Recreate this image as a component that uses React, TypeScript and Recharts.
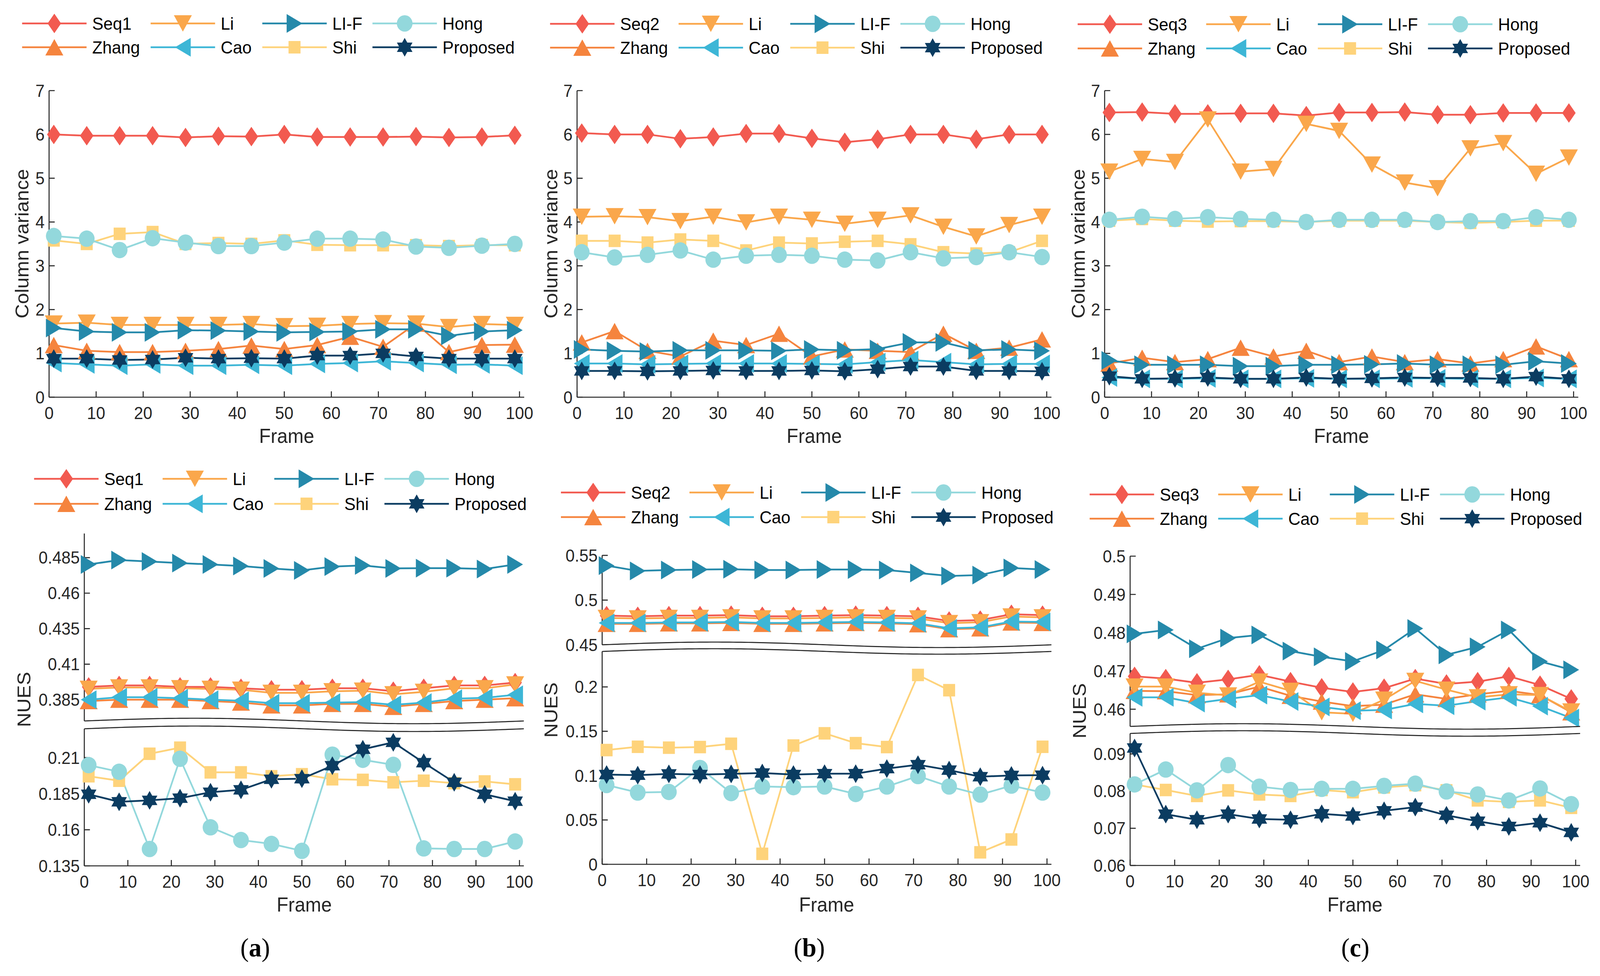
import React from 'react';
import { LineChart, Line, XAxis, YAxis } from 'recharts';

const FONT = '"Liberation Sans", Arial, Helvetica, sans-serif';
const SERIF = '"Liberation Serif", "Times New Roman", serif';
const INK = '#262626';
const PAGE_W = 4270;
const PAGE_H = 2499;

const FRAMES = [1, 8, 15, 22, 29, 36, 43, 50, 57, 64, 71, 78, 85, 92, 99];
const FRAME_TICKS = [0, 10, 20, 30, 40, 50, 60, 70, 80, 90, 100];

// (a) top: column variance, Seq1
const a1Seq = [6.0, 5.97, 5.97, 5.97, 5.93, 5.96, 5.95, 6.0, 5.94, 5.94, 5.94, 5.95, 5.93, 5.94, 5.98];
const a1Zhang = [1.19, 1.06, 1.03, 1.03, 1.06, 1.1, 1.18, 1.1, 1.19, 1.38, 1.15, 1.68, 1.03, 1.19, 1.2];
const a1Li = [1.68, 1.7, 1.65, 1.65, 1.65, 1.65, 1.67, 1.62, 1.63, 1.67, 1.69, 1.68, 1.6, 1.67, 1.65];
const a1Cao = [0.78, 0.75, 0.72, 0.75, 0.72, 0.72, 0.74, 0.72, 0.76, 0.78, 0.82, 0.78, 0.74, 0.75, 0.72];
const a1LiF = [1.58, 1.5, 1.48, 1.48, 1.53, 1.52, 1.5, 1.48, 1.49, 1.5, 1.55, 1.55, 1.4, 1.5, 1.53];
const a1Shi = [3.58, 3.5, 3.73, 3.77, 3.5, 3.52, 3.5, 3.58, 3.48, 3.47, 3.47, 3.47, 3.45, 3.47, 3.47];
const a1Hong = [3.68, 3.62, 3.36, 3.63, 3.53, 3.45, 3.45, 3.53, 3.62, 3.62, 3.6, 3.44, 3.41, 3.46, 3.5];
const a1Prop = [0.88, 0.88, 0.85, 0.86, 0.9, 0.88, 0.89, 0.88, 0.95, 0.95, 1.0, 0.93, 0.88, 0.88, 0.88];

// (b) top: column variance, Seq2
const b1Seq = [6.03, 6.0, 6.0, 5.9, 5.94, 6.02, 6.02, 5.91, 5.82, 5.89, 6.0, 6.0, 5.89, 6.0, 6.0];
const b1Zhang = [1.25, 1.51, 1.06, 0.93, 1.29, 1.19, 1.45, 0.93, 1.09, 1.06, 1.03, 1.45, 1.06, 1.13, 1.32];
const b1Li = [4.12, 4.13, 4.11, 4.02, 4.12, 3.99, 4.12, 4.05, 3.96, 4.05, 4.15, 3.89, 3.67, 3.93, 4.12];
const b1Cao = [0.77, 0.77, 0.75, 0.76, 0.77, 0.77, 0.77, 0.76, 0.75, 0.8, 0.85, 0.8, 0.75, 0.76, 0.76];
const b1LiF = [1.09, 1.06, 1.04, 1.07, 1.07, 1.07, 1.06, 1.09, 1.07, 1.1, 1.25, 1.25, 1.07, 1.09, 1.06];
const b1Shi = [3.57, 3.57, 3.53, 3.6, 3.57, 3.35, 3.53, 3.51, 3.55, 3.57, 3.49, 3.31, 3.28, 3.31, 3.57];
const b1Hong = [3.31, 3.19, 3.25, 3.35, 3.14, 3.23, 3.25, 3.23, 3.14, 3.12, 3.31, 3.17, 3.2, 3.31, 3.2];
const b1Prop = [0.6, 0.6, 0.59, 0.6, 0.61, 0.6, 0.6, 0.61, 0.59, 0.64, 0.7, 0.7, 0.6, 0.6, 0.59];

// (c) top: column variance, Seq3
const c1Seq = [6.5, 6.51, 6.47, 6.47, 6.48, 6.48, 6.43, 6.5, 6.5, 6.51, 6.45, 6.45, 6.49, 6.49, 6.49];
const c1Zhang = [0.77, 0.9, 0.8, 0.87, 1.13, 0.93, 1.06, 0.8, 0.93, 0.8, 0.87, 0.77, 0.87, 1.16, 0.87];
const c1Li = [5.15, 5.44, 5.37, 6.34, 5.15, 5.21, 6.24, 6.08, 5.31, 4.9, 4.77, 5.68, 5.8, 5.1, 5.47];
const c1Cao = [0.45, 0.42, 0.42, 0.43, 0.42, 0.42, 0.43, 0.42, 0.42, 0.43, 0.43, 0.42, 0.42, 0.44, 0.42];
const c1LiF = [0.84, 0.74, 0.74, 0.74, 0.71, 0.71, 0.74, 0.74, 0.75, 0.77, 0.74, 0.74, 0.74, 0.82, 0.77];
const c1Shi = [4.03, 4.07, 4.03, 4.01, 4.02, 4.02, 4.0, 4.03, 4.03, 4.03, 4.0, 3.98, 4.0, 4.03, 4.03];
const c1Hong = [4.05, 4.12, 4.07, 4.11, 4.07, 4.05, 4.0, 4.05, 4.05, 4.05, 4.0, 4.02, 4.02, 4.11, 4.05];
const c1Prop = [0.48, 0.42, 0.43, 0.45, 0.42, 0.42, 0.45, 0.42, 0.43, 0.45, 0.44, 0.44, 0.42, 0.47, 0.42];

// (a) bottom: NUES, Seq1
const a2Seq = [0.394, 0.395, 0.395, 0.394, 0.394, 0.393, 0.392, 0.392, 0.393, 0.393, 0.391, 0.393, 0.395, 0.395, 0.397];
const a2Zhang = [0.384, 0.385, 0.385, 0.385, 0.384, 0.383, 0.381, 0.381, 0.382, 0.382, 0.38, 0.382, 0.384, 0.385, 0.386];
const a2Li = [0.3926, 0.3936, 0.3936, 0.393, 0.3926, 0.392, 0.3898, 0.3898, 0.3909, 0.3913, 0.3888, 0.3905, 0.393, 0.393, 0.3957];
const a2Cao = [0.385, 0.3867, 0.3867, 0.386, 0.385, 0.3842, 0.3825, 0.3825, 0.3829, 0.3833, 0.3814, 0.3829, 0.3857, 0.3863, 0.3884];
const a2LiF = [0.4802, 0.4833, 0.4823, 0.4812, 0.4802, 0.4791, 0.4774, 0.476, 0.4787, 0.4795, 0.4774, 0.4776, 0.4776, 0.477, 0.4802];
const a2Shi = [0.1971, 0.194, 0.2127, 0.2169, 0.1998, 0.1998, 0.1971, 0.1985, 0.195, 0.1946, 0.1929, 0.194, 0.1923, 0.1935, 0.1915];
const a2Hong = [0.2048, 0.2002, 0.1467, 0.2092, 0.1617, 0.1529, 0.1502, 0.1454, 0.2121, 0.2085, 0.205, 0.1471, 0.1467, 0.1467, 0.1519];
const a2Prop = [0.1846, 0.1794, 0.1804, 0.1819, 0.186, 0.1877, 0.195, 0.1954, 0.2044, 0.2158, 0.2206, 0.2065, 0.1929, 0.1846, 0.1798];

// (b) bottom: NUES, Seq2
const b2Seq = [0.4826, 0.4819, 0.4826, 0.4826, 0.4832, 0.4819, 0.4819, 0.4826, 0.4832, 0.4826, 0.4819, 0.4766, 0.4776, 0.4842, 0.4832];
const b2Zhang = [0.4735, 0.4735, 0.474, 0.474, 0.4745, 0.4735, 0.4735, 0.474, 0.4745, 0.474, 0.473, 0.4675, 0.4685, 0.475, 0.4745];
const b2Li = [0.48, 0.4795, 0.48, 0.48, 0.4807, 0.4795, 0.4795, 0.48, 0.4807, 0.48, 0.4795, 0.4742, 0.4752, 0.4817, 0.4807];
const b2Cao = [0.4745, 0.4745, 0.475, 0.475, 0.4755, 0.4745, 0.4745, 0.475, 0.4755, 0.475, 0.474, 0.4685, 0.4695, 0.476, 0.4755];
const b2LiF = [0.5385, 0.5326, 0.5336, 0.5342, 0.5345, 0.5336, 0.5336, 0.5342, 0.5342, 0.5336, 0.5303, 0.527, 0.528, 0.5359, 0.5342];
const b2Shi = [0.1288, 0.1325, 0.1315, 0.1322, 0.1359, 0.0118, 0.1339, 0.1477, 0.1366, 0.1322, 0.2135, 0.1963, 0.0135, 0.028, 0.1325];
const b2Hong = [0.0894, 0.0809, 0.0816, 0.1086, 0.0803, 0.0877, 0.087, 0.0877, 0.0793, 0.0877, 0.0995, 0.0877, 0.0786, 0.0887, 0.0809];
const b2Prop = [0.1012, 0.1005, 0.1019, 0.1012, 0.1019, 0.1029, 0.1012, 0.1022, 0.1022, 0.1079, 0.1123, 0.1062, 0.0988, 0.1002, 0.1005];

// (c) bottom: NUES, Seq3
const c2Seq = [0.4686, 0.468, 0.4669, 0.4678, 0.469, 0.4672, 0.4656, 0.4645, 0.4655, 0.468, 0.4666, 0.4672, 0.4686, 0.4663, 0.4627];
const c2Zhang = [0.4648, 0.4647, 0.4637, 0.4639, 0.4659, 0.4635, 0.462, 0.4608, 0.4612, 0.4639, 0.4627, 0.4639, 0.4648, 0.4637, 0.4592];
const c2Li = [0.4659, 0.4659, 0.4643, 0.4636, 0.4672, 0.4648, 0.4592, 0.4588, 0.4625, 0.4674, 0.4651, 0.4631, 0.4639, 0.4637, 0.4594];
const c2Cao = [0.4631, 0.4631, 0.4616, 0.4627, 0.4637, 0.462, 0.4606, 0.4596, 0.4598, 0.4614, 0.4609, 0.4621, 0.4631, 0.4608, 0.4577];
const c2LiF = [0.4797, 0.4807, 0.4758, 0.4786, 0.4794, 0.4752, 0.4737, 0.4725, 0.4755, 0.4811, 0.4742, 0.4763, 0.4807, 0.4725, 0.4703];
const c2Shi = [0.0818, 0.0803, 0.0787, 0.0802, 0.0791, 0.0787, 0.0803, 0.0797, 0.081, 0.0816, 0.0802, 0.0775, 0.0771, 0.0775, 0.0755];
const c2Hong = [0.0818, 0.0858, 0.0802, 0.087, 0.0812, 0.0803, 0.0806, 0.0806, 0.0814, 0.082, 0.0799, 0.0791, 0.0775, 0.0807, 0.0765];
const c2Prop = [0.0916, 0.0738, 0.0723, 0.0738, 0.0725, 0.0723, 0.0739, 0.0733, 0.0747, 0.0757, 0.0735, 0.0719, 0.0705, 0.0715, 0.0689];

type Key = 'seq' | 'zhang' | 'li' | 'cao' | 'lif' | 'shi' | 'hong' | 'proposed';
type Shape = 'diamond' | 'up' | 'down' | 'left' | 'right' | 'circle' | 'square' | 'hex';

const STYLE: Record<Key, { color: string; shape: Shape; label: string }> = {
  seq: { color: '#F25A50', shape: 'diamond', label: 'Seq' },
  zhang: { color: '#F5843E', shape: 'up', label: 'Zhang' },
  li: { color: '#FAA74B', shape: 'down', label: 'Li' },
  cao: { color: '#3DB6D6', shape: 'left', label: 'Cao' },
  lif: { color: '#2589AA', shape: 'right', label: 'LI-F' },
  shi: { color: '#FED37B', shape: 'square', label: 'Shi' },
  hong: { color: '#93D8DC', shape: 'circle', label: 'Hong' },
  proposed: { color: '#0B3C61', shape: 'hex', label: 'Proposed' },
};
const ALL: Key[] = ['seq', 'zhang', 'li', 'cao', 'lif', 'shi', 'hong', 'proposed'];
const HIGH: Key[] = ['seq', 'zhang', 'li', 'cao', 'lif'];
const LOW: Key[] = ['shi', 'hong', 'proposed'];
const LEGEND_COLS: Key[][] = [['seq', 'zhang'], ['li', 'cao'], ['lif', 'shi'], ['hong', 'proposed']];

const toRows = (s: Record<Key, number[]>) =>
  FRAMES.map((f, i) => {
    const r: Record<string, number> = { frame: f };
    ALL.forEach((k) => { r[k] = s[k][i]; });
    return r;
  });

const rowsA1 = toRows({ seq: a1Seq, zhang: a1Zhang, li: a1Li, cao: a1Cao, lif: a1LiF, shi: a1Shi, hong: a1Hong, proposed: a1Prop });
const rowsB1 = toRows({ seq: b1Seq, zhang: b1Zhang, li: b1Li, cao: b1Cao, lif: b1LiF, shi: b1Shi, hong: b1Hong, proposed: b1Prop });
const rowsC1 = toRows({ seq: c1Seq, zhang: c1Zhang, li: c1Li, cao: c1Cao, lif: c1LiF, shi: c1Shi, hong: c1Hong, proposed: c1Prop });
const rowsA2 = toRows({ seq: a2Seq, zhang: a2Zhang, li: a2Li, cao: a2Cao, lif: a2LiF, shi: a2Shi, hong: a2Hong, proposed: a2Prop });
const rowsB2 = toRows({ seq: b2Seq, zhang: b2Zhang, li: b2Li, cao: b2Cao, lif: b2LiF, shi: b2Shi, hong: b2Hong, proposed: b2Prop });
const rowsC2 = toRows({ seq: c2Seq, zhang: c2Zhang, li: c2Li, cao: c2Cao, lif: c2LiF, shi: c2Shi, hong: c2Hong, proposed: c2Prop });

function Marker({ shape, cx, cy, color }: { shape: Shape; cx: number; cy: number; color: string }) {
  let pts = '';
  switch (shape) {
    case 'circle':
      return <circle cx={cx} cy={cy} r={21} fill={color} />;
    case 'square':
      return <rect x={cx - 16} y={cy - 16} width={32} height={32} fill={color} />;
    case 'diamond':
      pts = `${cx},${cy - 25} ${cx + 18},${cy} ${cx},${cy + 25} ${cx - 18},${cy}`;
      break;
    case 'up':
      pts = `${cx},${cy - 21} ${cx + 24},${cy + 21} ${cx - 24},${cy + 21}`;
      break;
    case 'down':
      pts = `${cx},${cy + 21} ${cx + 24},${cy - 21} ${cx - 24},${cy - 21}`;
      break;
    case 'left':
      pts = `${cx - 21},${cy} ${cx + 21},${cy - 24} ${cx + 21},${cy + 24}`;
      break;
    case 'right':
      pts = `${cx + 21},${cy} ${cx - 21},${cy - 24} ${cx - 21},${cy + 24}`;
      break;
    case 'hex': {
      const a: string[] = [];
      for (let i = 0; i < 12; i++) {
        const r = i % 2 === 0 ? 24 : 14;
        const ang = (-90 + i * 30) * Math.PI / 180;
        a.push(`${cx + r * Math.cos(ang)},${cy + r * Math.sin(ang)}`);
      }
      pts = a.join(' ');
      break;
    }
  }
  return <polygon points={pts} fill={color} />;
}

type PlotSpec = {
  left: number; top: number; width: number; height: number;
  domain: [number, number]; ticks: number[];
  rows: Record<string, number>[]; keys: Key[];
  bottomAxis: boolean; topAxis: boolean;
};

const YW = 160;
const MT = 40;
const MR = 40;
const XH = 90;
const TICK = -15;
const axisStroke = { stroke: INK, strokeWidth: 2.7 };
const tickFont = { fontSize: 44, fill: INK, fontFamily: FONT };

function Plot({ p }: { p: PlotSpec }) {
  const mb = p.bottomAxis ? 0 : 40;
  const w = YW + p.width + MR;
  const h = MT + p.height + (p.bottomAxis ? XH : mb);
  return (
    <div style={{ position: 'absolute', left: p.left - YW, top: p.top - MT, width: w, height: h }}>
      <LineChart width={w} height={h} data={p.rows} margin={{ top: MT, right: MR, left: 0, bottom: mb }}>
        <XAxis xAxisId="b" type="number" dataKey="frame" domain={[0, 101]} ticks={FRAME_TICKS} interval={0}
          orientation="bottom" height={XH} hide={!p.bottomAxis} tickSize={TICK} tickMargin={40}
          axisLine={axisStroke} tickLine={axisStroke} tick={tickFont} />
        <XAxis xAxisId="t" type="number" dataKey="frame" domain={[0, 101]} ticks={FRAME_TICKS} interval={0}
          orientation="top" height={0} hide={!p.topAxis} tickSize={TICK} tick={false}
          axisLine={axisStroke} tickLine={axisStroke} />
        <YAxis yAxisId="l" type="number" domain={p.domain} ticks={p.ticks} interval={0} width={YW}
          tickSize={TICK} tickMargin={27} axisLine={axisStroke} tickLine={axisStroke} tick={tickFont} />
        <YAxis yAxisId="r" orientation="right" type="number" domain={p.domain} ticks={p.ticks} interval={0} width={0}
          tickSize={TICK} tick={false} axisLine={axisStroke} tickLine={axisStroke} />
        {p.keys.map((k) => (
          <Line key={k} xAxisId="b" yAxisId="l" type="linear" dataKey={k} stroke={STYLE[k].color} strokeWidth={4.5}
            isAnimationActive={false} activeDot={false}
            dot={(d: any) => (d.cx == null || d.cy == null
              ? <g key={`${k}-${d.index}`} />
              : <Marker key={`${k}-${d.index}`} shape={STYLE[k].shape} cx={d.cx} cy={d.cy} color={STYLE[k].color} />)} />
        ))}
      </LineChart>
    </div>
  );
}

const PLOTS: PlotSpec[] = [
  { left: 131, top: 232, width: 1268, height: 785, domain: [0, 7], ticks: [0, 1, 2, 3, 4, 5, 6, 7], rows: rowsA1, keys: ALL, bottomAxis: true, topAxis: true },
  { left: 1540, top: 232, width: 1266, height: 785, domain: [0, 7], ticks: [0, 1, 2, 3, 4, 5, 6, 7], rows: rowsB1, keys: ALL, bottomAxis: true, topAxis: true },
  { left: 2948, top: 232, width: 1264, height: 785, domain: [0, 7], ticks: [0, 1, 2, 3, 4, 5, 6, 7], rows: rowsC1, keys: ALL, bottomAxis: true, topAxis: true },
  { left: 225, top: 1366, width: 1173, height: 480, domain: [0.37, 0.502], ticks: [0.385, 0.41, 0.435, 0.46, 0.485], rows: rowsA2, keys: HIGH, bottomAxis: false, topAxis: true },
  { left: 225, top: 1866, width: 1173, height: 351, domain: [0.135, 0.23], ticks: [0.135, 0.16, 0.185, 0.21], rows: rowsA2, keys: LOW, bottomAxis: true, topAxis: false },
  { left: 1607, top: 1422, width: 1199, height: 229, domain: [0.45, 0.55], ticks: [0.45, 0.5, 0.55], rows: rowsB2, keys: HIGH, bottomAxis: false, topAxis: true },
  { left: 1607, top: 1668, width: 1199, height: 545, domain: [0, 0.24], ticks: [0, 0.05, 0.1, 0.15, 0.2], rows: rowsB2, keys: LOW, bottomAxis: true, topAxis: false },
  { left: 3016, top: 1424, width: 1201, height: 436, domain: [0.4555, 0.5], ticks: [0.46, 0.47, 0.48, 0.49, 0.5], rows: rowsC2, keys: HIGH, bottomAxis: false, topAxis: true },
  { left: 3016, top: 1878, width: 1201, height: 338, domain: [0.06, 0.0955], ticks: [0.06, 0.07, 0.08, 0.09], rows: rowsC2, keys: LOW, bottomAxis: true, topAxis: false },
];

// axis breaks: x range, mid line of upper wave, mid line of lower wave
const BREAKS = [
  { x0: 225, x1: 1398, yu: 1846, yl: 1866 },
  { x0: 1607, x1: 2806, yu: 1651, yl: 1668 },
  { x0: 3016, x1: 4217, yu: 1860, yl: 1878 },
];

const LEGENDS = [
  { x: 59, y1: 60, y2: 121, seq: 'Seq1' },
  { x: 1468, y1: 61, y2: 122, seq: 'Seq2' },
  { x: 2876, y1: 62, y2: 124, seq: 'Seq3' },
  { x: 91, y1: 1226, y2: 1290, seq: 'Seq1' },
  { x: 1497, y1: 1261, y2: 1324, seq: 'Seq2' },
  { x: 2908, y1: 1266, y2: 1328, seq: 'Seq3' },
];
const COL_OFF = [0, 343, 641, 935];

const wave = (x0: number, x1: number, y: number) => {
  const pts: [number, number][] = [];
  for (let i = 0; i <= 120; i++) {
    const t = i / 120;
    pts.push([x0 + (x1 - x0) * t, y - 7 * Math.sin(2 * Math.PI * t)]);
  }
  return pts;
};

function Overlay() {
  const title = { fontFamily: FONT, fontSize: 51, fill: INK } as const;
  return (
    <svg width={PAGE_W} height={PAGE_H} style={{ position: 'absolute', left: 0, top: 0, pointerEvents: 'none' }}>
      {BREAKS.map((b, i) => {
        const up = wave(b.x0, b.x1, b.yu);
        const lo = wave(b.x0, b.x1, b.yl);
        const fill = [...up, ...lo.slice().reverse()].map((p) => p.join(',')).join(' ');
        return (
          <g key={i}>
            <polygon points={fill} fill="#ffffff" />
            <polyline points={up.map((p) => p.join(',')).join(' ')} fill="none" stroke={INK} strokeWidth={2.7} />
            <polyline points={lo.map((p) => p.join(',')).join(' ')} fill="none" stroke={INK} strokeWidth={2.7} />
          </g>
        );
      })}
      {LEGENDS.map((lg, i) => (
        <g key={i}>
          {LEGEND_COLS.map((col, c) => col.map((k, r) => {
            const x = lg.x + COL_OFF[c];
            const y = r === 0 ? lg.y1 : lg.y2;
            const st = STYLE[k];
            return (
              <g key={k}>
                <line x1={x} x2={x + 172} y1={y} y2={y} stroke={st.color} strokeWidth={4.5} />
                <Marker shape={st.shape} cx={x + 86} cy={y} color={st.color} />
                <text x={x + 187} y={y + 16} fontFamily={FONT} fontSize={45} fill="#000">{k === 'seq' ? lg.seq : st.label}</text>
              </g>
            );
          }))}
        </g>
      ))}
      {[59, 1470, 2878].map((x) => (
        <text key={x} {...title} textAnchor="middle" dominantBaseline="central" transform={`translate(${x},624) rotate(-90)`}>Column variance</text>
      ))}
      {[[64, 1791], [1470, 1818], [2881, 1820]].map(([x, y]) => (
        <text key={x} {...title} textAnchor="middle" dominantBaseline="central" transform={`translate(${x},${y}) rotate(-90)`}>NUES</text>
      ))}
      {[[765, 1117], [2173, 1117], [3580, 1117], [812, 2317], [2206, 2317], [3616, 2317]].map(([x, y]) => (
        <text key={`${x}-${y}`} {...title} x={x} y={y} textAnchor="middle" dominantBaseline="central">Frame</text>
      ))}
      {[[681, 'a'], [2160, 'b'], [3617, 'c']].map(([x, l]) => (
        <text key={l as string} x={x as number} y={2449} textAnchor="middle" fontFamily={SERIF} fontSize={68} fill="#000">
          (<tspan fontWeight="bold">{l}</tspan>)
        </text>
      ))}
    </svg>
  );
}

export default function App() {
  // fit the 4270x2499 figure into whatever viewport the browser actually gives
  const vw = typeof window !== 'undefined' ? window.innerWidth : PAGE_W;
  const vh = typeof window !== 'undefined' ? window.innerHeight : PAGE_H;
  const sx = Math.min(1, vw / PAGE_W);
  const sy = Math.min(1, vh / PAGE_H);
  return (
    <div style={{ position: 'fixed', left: 0, top: 0, width: '100vw', height: '100vh', overflow: 'hidden', background: '#ffffff' }}>
      <div style={{ position: 'absolute', left: 0, top: 0, width: PAGE_W, height: PAGE_H, transform: `scale(${sx}, ${sy})`, transformOrigin: '0 0' }}>
        {PLOTS.map((p, i) => <Plot key={i} p={p} />)}
        <Overlay />
      </div>
    </div>
  );
}
